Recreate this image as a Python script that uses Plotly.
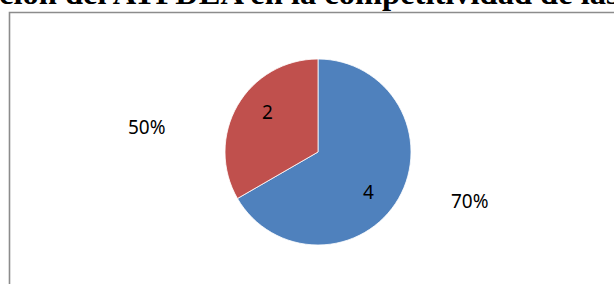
import math
import plotly.graph_objects as go

W, H = 614, 284

categories = ["A", "B"]
values = [4, 2]
colors = ["#4F81BD", "#C0504D"]
title_text = "ción del ATPDEA en la competitividad de las"
side_labels = ["50%", "70%"]

def px(x):
    return x / W

def py(y):
    return 1 - y / H

CX, CY, R = 318, 152, 93

fig = go.Figure()
fig.add_trace(go.Pie(
    labels=categories,
    values=values,
    sort=False,
    direction="clockwise",
    rotation=0,
    marker=dict(colors=colors, line=dict(color="white", width=0.8)),
    textinfo="none",
    showlegend=False,
    hoverinfo="label+value",
    domain=dict(x=[px(CX - R), px(CX + R)], y=[py(CY + R), py(CY - R)]),
))

# value labels placed at each slice's mid-angle (computed from the data)
total = sum(values)
cum = 0
for v in values:
    mid = (cum + v / 2) / total * 360 + 8
    cum += v
    rr = 0.69 * R
    lx = CX + rr * math.sin(math.radians(mid))
    ly = CY - rr * math.cos(math.radians(mid))
    fig.add_annotation(text=str(v), xref="paper", yref="paper",
                       x=px(lx), y=py(ly), xanchor="center", yanchor="middle",
                       showarrow=False,
                       font=dict(family="Noto Sans", size=19, color="black"))

fig.add_shape(type="rect", xref="paper", yref="paper",
              x0=px(9.5), x1=px(700), y0=py(400), y1=py(12.5),
              line=dict(color="#8C8C8C", width=1.6), fillcolor="rgba(0,0,0,0)")

fig.add_annotation(text="<b>" + title_text + "</b>", xref="paper", yref="paper",
                   x=px(-3), y=py(13.5), xanchor="left", yanchor="bottom",
                   showarrow=False,
                   font=dict(family="Liberation Serif", size=32.5, color="black"))

fig.add_annotation(text=side_labels[0], xref="paper", yref="paper",
                   x=px(147), y=py(127), xanchor="center", yanchor="middle",
                   showarrow=False, font=dict(family="Noto Sans", size=19, color="black"))
fig.add_annotation(text=side_labels[1], xref="paper", yref="paper",
                   x=px(470), y=py(201), xanchor="center", yanchor="middle",
                   showarrow=False, font=dict(family="Noto Sans", size=19, color="black"))

fig.update_layout(width=W, height=H, margin=dict(l=0, r=0, t=0, b=0),
                  paper_bgcolor="white", plot_bgcolor="white")

fig.write_html("out.html", config={"displayModeBar": False},
               post_script="document.body.style.margin='0';")
